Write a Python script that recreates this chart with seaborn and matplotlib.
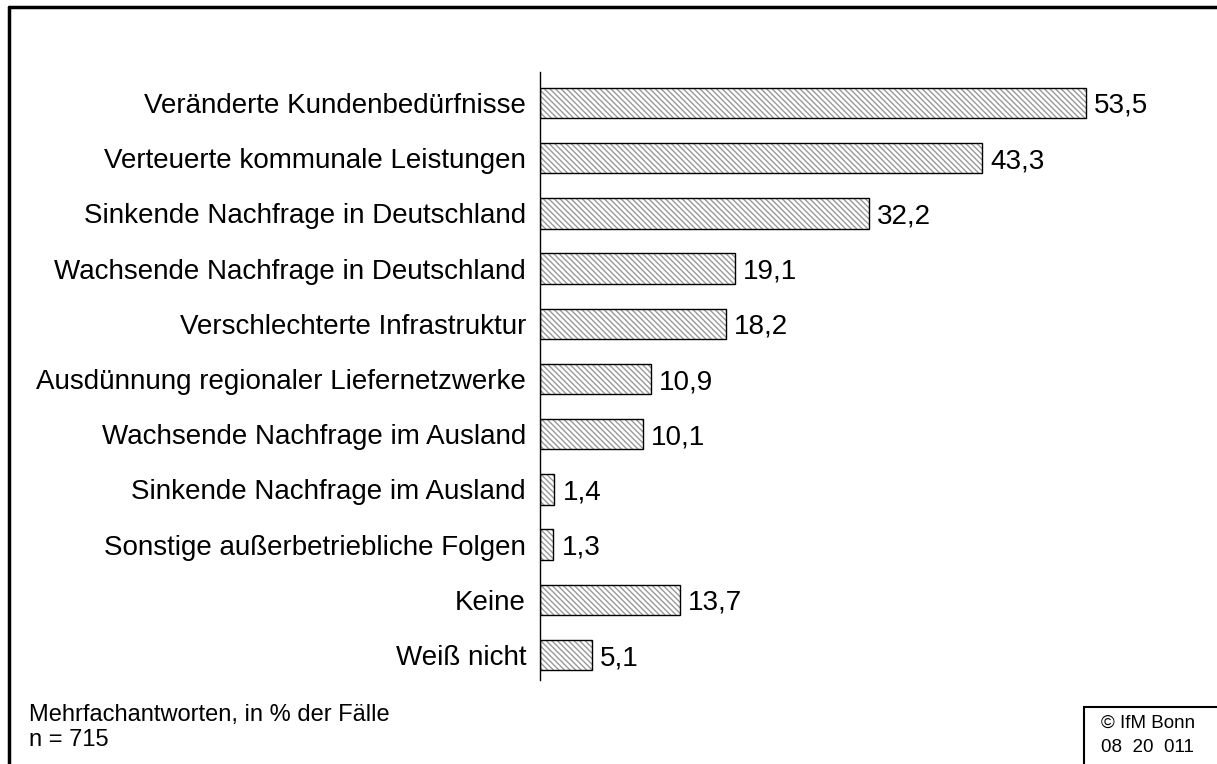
import matplotlib
matplotlib.use("Agg")
import matplotlib.pyplot as plt
import seaborn as sns
import pandas as pd
from matplotlib.lines import Line2D
from matplotlib.patches import Rectangle

# Data
categories = [
    "Veränderte Kundenbedürfnisse",
    "Verteuerte kommunale Leistungen",
    "Sinkende Nachfrage in Deutschland",
    "Wachsende Nachfrage in Deutschland",
    "Verschlechterte Infrastruktur",
    "Ausdünnung regionaler Liefernetzwerke",
    "Wachsende Nachfrage im Ausland",
    "Sinkende Nachfrage im Ausland",
    "Sonstige außerbetriebliche Folgen",
    "Keine",
    "Weiß nicht",
]
values = [53.5, 43.3, 32.2, 19.1, 18.2, 10.9, 10.1, 1.4, 1.3, 13.7, 5.1]

note_lines = ["Mehrfachantworten, in % der Fälle", "n = 715"]
source_lines = ["© IfM Bonn", "08  20  011"]

HATCH_GREY = "#999999"

sns.set_style("white")
plt.rcParams["font.family"] = ["Liberation Sans", "DejaVu Sans"]
plt.rcParams["text.color"] = "black"
plt.rcParams["ytick.color"] = "black"
plt.rcParams["hatch.linewidth"] = 1.0

df = pd.DataFrame({"Kategorie": categories, "Wert": values})

fig = plt.figure(figsize=(12.17, 7.64), dpi=100)
ax = fig.add_axes([0.4437, 0.110, 0.5030, 0.7958])

# hatched fill (grey hatch lines), then black outline on top
sns.barplot(data=df, y="Kategorie", x="Wert", orient="h", color="white",
            edgecolor=HATCH_GREY, linewidth=0, width=0.55, ax=ax)
for p in ax.patches:
    p.set_hatch("\\" * 6)
    p.set_facecolor("white")
sns.barplot(data=df, y="Kategorie", x="Wert", orient="h", fill=False,
            edgecolor="black", linewidth=1.0, width=0.55, ax=ax)

ax.set_xlim(0, 60)
ax.set_ylim(10.45, -0.56)
ax.set_xlabel("")
ax.set_ylabel("")
ax.set_xticks([])
for s in ["top", "right", "bottom"]:
    ax.spines[s].set_visible(False)
ax.spines["left"].set_color("black")
ax.spines["left"].set_linewidth(1.0)
ax.spines["left"].set_zorder(5)
ax.tick_params(axis="y", length=0, pad=10, labelsize=20, labelcolor="black")

for i, v in enumerate(values):
    ax.text(v + 0.8, i, f"{v:.1f}".replace(".", ","), va="center_baseline",
            ha="left", fontsize=20)

# Footnote
fig.text(29 / 1217, 1 - 715 / 764, note_lines[0], fontsize=17, va="center", ha="left")
fig.text(29 / 1217, 1 - 740 / 764, note_lines[1], fontsize=17, va="center", ha="left")

# Source box
fig.patches.append(Rectangle((1084 / 1217, -0.05), 0.2, 1 - 707 / 764 + 0.05,
                             transform=fig.transFigure, fill=False,
                             edgecolor="black", linewidth=1.5))
fig.text(1101 / 1217, 1 - 723 / 764, source_lines[0], fontsize=13.5, ha="left", va="center")
fig.text(1101 / 1217, 1 - 748 / 764, source_lines[1], fontsize=13.5, ha="left", va="center")

# Outer frame (top and left edges visible)
fig.add_artist(Line2D([9 / 1217, 1.1], [1 - 7 / 764, 1 - 7 / 764],
                      transform=fig.transFigure, color="black", linewidth=2.5))
fig.add_artist(Line2D([9 / 1217, 9 / 1217], [1 - 7 / 764, -0.1],
                      transform=fig.transFigure, color="black", linewidth=2.5))

fig.savefig("out.png", dpi=100)
